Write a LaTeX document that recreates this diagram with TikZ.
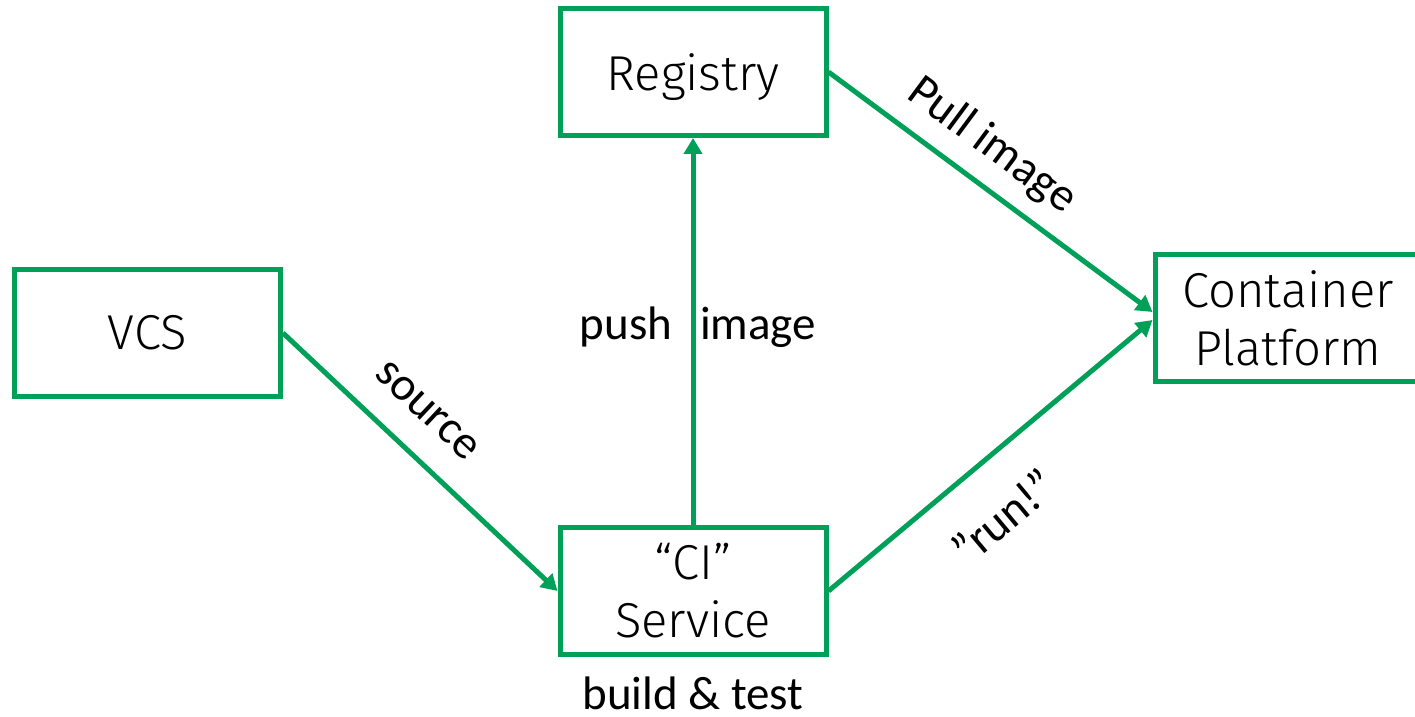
\documentclass[tikz,border=0pt]{standalone}
\usepackage{fontspec}
\setmainfont{Fira Sans Light}
\newfontfamily\lblfont{Carlito}
\usetikzlibrary{arrows.meta}
\definecolor{grn}{RGB}{0,160,88}
\begin{document}
\begin{tikzpicture}[x=0.5pt,y=-0.5pt,
  box/.style={draw=grn, line width=2.5pt, minimum width=133pt, minimum height=63.5pt,
    align=center, inner sep=0pt, font=\fontsize{24.5}{29}\selectfont},
  conn/.style={draw=grn, line width=2.5pt, -{Triangle[length=8pt,width=9pt]}},
  lbl/.style={font=\lblfont\fontsize{23.5}{26}\selectfont, inner sep=2pt}]
\useasboundingbox (0,0) rectangle (1415,717);
\node[box, text depth=0pt] (reg) at (693,72) {Registry};
\node[box] (vcs) at (147.5,333) {VCS};
\node[box] (ci) at (693,591) {“CI”\\Service};
\node[box] (cp) at (1288,318) {Container\\Platform};
\node[lbl] (bt) at (693,693) {build \& test};
\draw[conn] (vcs.east) -- node[lbl, sloped, above=12pt, pos=0.42] {source} (ci.west);
\draw[conn] (ci.north) -- node[lbl, pos=0.51, xshift=2.5pt] {push\hspace{14pt}image} (reg.south);
\draw[conn] (reg.east) -- node[lbl, sloped, above=5.5pt, pos=0.435] {Pull image} ([yshift=3pt]cp.west);
\draw[conn] (ci.east) -- node[lbl, sloped, below=16pt, pos=0.43] {”run!”} ([yshift=-1pt]cp.west);
\end{tikzpicture}
\end{document}
